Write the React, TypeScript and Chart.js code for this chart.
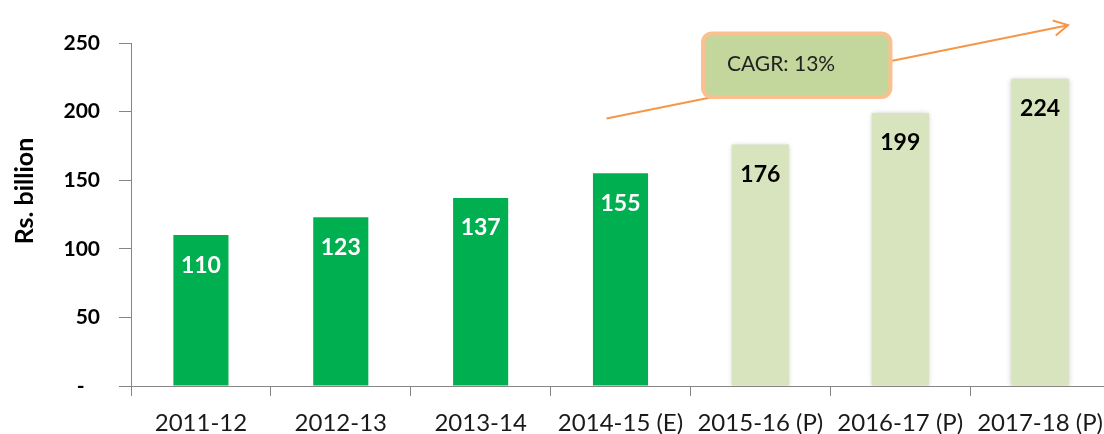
import React, { useEffect, useRef } from "react";
import { Chart, registerables } from "chart.js";

Chart.register(...registerables);

const categories = ["2011-12", "2012-13", "2013-14", "2014-15 (E)", "2015-16 (P)", "2016-17 (P)", "2017-18 (P)"];
const actualValues = [110, 123, 137, 155, null, null, null];
const projectedValues = [null, null, null, null, 176, 199, 224];
const yTickValues = [0, 50, 100, 150, 200, 250];
const cagrLabel = "CAGR: 13%";
const yTitle = "Rs. billion";

const FONT = "Lato, 'Open Sans', sans-serif";

const overlayPlugin = {
  id: "overlay",
  beforeDatasetDraw(chart: any, args: any) {
    if (args.index === 1) {
      const ctx = chart.ctx;
      ctx.save();
      ctx.shadowColor = "rgba(0,0,0,0.22)";
      ctx.shadowBlur = 5;
      ctx.shadowOffsetX = 0;
      ctx.shadowOffsetY = 0;
    }
  },
  afterDatasetDraw(chart: any, args: any) {
    if (args.index === 1) chart.ctx.restore();
  },
  afterDraw(chart: any) {
    const ctx = chart.ctx;
    const xs = chart.scales.x;
    const ys = chart.scales.y;
    // value labels
    chart.data.datasets.forEach((ds: any, di: number) => {
      const meta = chart.getDatasetMeta(di);
      meta.data.forEach((bar: any, i: number) => {
        const v = ds.data[i];
        if (v === null || v === undefined) return;
        ctx.save();
        ctx.font = `bold 23px ${FONT}`;
        ctx.fillStyle = di === 0 ? "#ffffff" : "#000000";
        ctx.textAlign = "center";
        ctx.textBaseline = "middle";
        ctx.fillText(String(v), bar.x, bar.y + 30);
        ctx.restore();
      });
    });
    // y title
    ctx.save();
    ctx.translate(25, 191);
    ctx.rotate(-Math.PI / 2);
    ctx.font = `bold 25px ${FONT}`;
    ctx.fillStyle = "#000";
    ctx.textAlign = "center";
    ctx.textBaseline = "middle";
    ctx.fillText(yTitle, 0, 0);
    ctx.restore();
    // CAGR arrow
    const x1 = xs.getPixelForValue(2.9), y1 = ys.getPixelForValue(195);
    const x2 = xs.getPixelForValue(6.2), y2 = ys.getPixelForValue(263);
    ctx.save();
    ctx.strokeStyle = "#F79646";
    ctx.lineWidth = 2;
    ctx.beginPath();
    ctx.moveTo(x1, y1);
    ctx.lineTo(x2, y2);
    const ang = Math.atan2(y2 - y1, x2 - x1);
    const hl = 16;
    ctx.moveTo(x2 + hl * Math.cos(ang + Math.PI - 0.5), y2 + hl * Math.sin(ang + Math.PI - 0.5));
    ctx.lineTo(x2, y2);
    ctx.lineTo(x2 + hl * Math.cos(ang + Math.PI + 0.5), y2 + hl * Math.sin(ang + Math.PI + 0.5));
    ctx.stroke();
    ctx.restore();
    // CAGR box
    const bx1 = xs.getPixelForValue(3.59), by1 = ys.getPixelForValue(257);
    const bx2 = xs.getPixelForValue(4.93), by2 = ys.getPixelForValue(210.6);
    ctx.save();
    ctx.beginPath();
    ctx.roundRect(bx1, by1, bx2 - bx1, by2 - by1, 9);
    ctx.fillStyle = "#C3D69B";
    ctx.fill();
    ctx.lineWidth = 4;
    ctx.strokeStyle = "#FAC08F";
    ctx.stroke();
    ctx.font = `21px ${FONT}`;
    ctx.fillStyle = "#222";
    ctx.textAlign = "left";
    ctx.textBaseline = "middle";
    ctx.fillText(cagrLabel, bx1 + 24, (by1 + by2) / 2 - 1);
    ctx.restore();
  },
};

export default function App() {
  const ref = useRef<HTMLCanvasElement>(null);
  useEffect(() => {
    if (!ref.current) return;
    const chart = new Chart(ref.current, {
      type: "bar",
      data: {
        labels: categories,
        datasets: [
          {
            data: actualValues,
            backgroundColor: "#00B050",
            categoryPercentage: 1,
            barPercentage: 0.394,
            grouped: false,
          } as any,
          {
            data: projectedValues,
            backgroundColor: "#D7E4BD",
            categoryPercentage: 1,
            barPercentage: 0.41,
            grouped: false,
          } as any,
        ],
      },
      options: {
        responsive: false,
        animation: false,
        events: [],
        layout: { padding: { top: 43, right: 0, bottom: 0, left: 0 } },
        plugins: { legend: { display: false }, tooltip: { enabled: false } },
        scales: {
          x: {
            grid: { drawOnChartArea: false, drawTicks: true, tickLength: 10, color: "#868686", offset: true },
            border: { color: "#868686", width: 1 },
            ticks: { font: { family: FONT, size: 24 }, color: "#1a1a1a", padding: 13, maxRotation: 0, autoSkip: false },
            afterFit: (s: any) => {
              s.height = 48;
              s.paddingLeft = 0;
              s.paddingRight = 0;
            },
          },
          y: {
            min: 0,
            max: 250,
            afterBuildTicks: (s: any) => { s.ticks = yTickValues.map((v) => ({ value: v })); },
            grid: { drawOnChartArea: false, drawTicks: true, tickLength: 12, color: "#868686" },
            border: { color: "#868686", width: 1 },
            ticks: {
              font: { family: FONT, size: 21, weight: "bold" },
              color: "#000",
              padding: 19,
              callback: (v: any) => (v === 0 ? "-   " : String(v)),
            },
            afterFit: (s: any) => {
              s.width = 131;
              s.paddingTop = 0;
              s.paddingBottom = 0;
            },
          },
        },
      },
      plugins: [overlayPlugin],
    });
    return () => chart.destroy();
  }, []);
  return (
    <div style={{ position: "fixed", left: 0, top: 0, width: 1110, height: 434, background: "#fff" }}>
      <canvas ref={ref} width={1110} height={434} />
    </div>
  );
}
